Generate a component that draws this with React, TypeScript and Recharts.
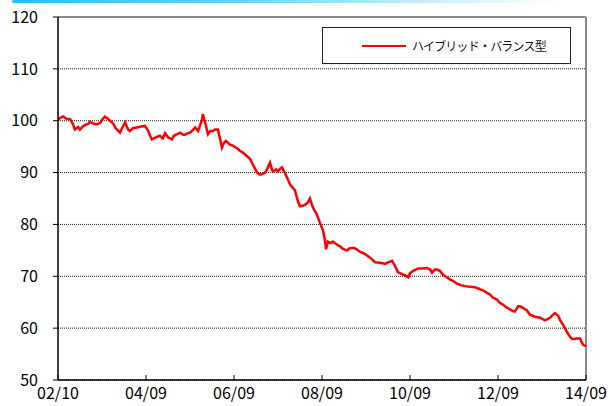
import React from "react";
import {
  LineChart,
  Line,
  XAxis,
  YAxis,
  CartesianGrid,
  ReferenceLine,
} from "recharts";

const SERIES_NAME = "ハイブリッド・バランス型";

// x tick labels (YY/MM), every 24 months
const xTickLabels = ["02/10", "04/09", "06/09", "08/09", "10/09", "12/09", "14/09"];
const xTickMonths = [0, 24, 48, 72, 96, 120, 144];
const yTicks = [50, 60, 70, 80, 90, 100, 110, 120];

// months elapsed since 2002/10
const months = [
  0, 0.5, 1.4, 2.2, 3.3, 4.1, 4.6, 5.5, 6.0, 6.8,
  7.4, 8.2, 8.7, 9.8, 10.6, 11.5, 12.3, 12.8, 13.6, 14.2,
  15.0, 15.8, 16.9, 17.5, 18.3, 19.1, 19.6, 20.5, 21.5, 22.6,
  23.7, 24.5, 25.1, 25.6, 26.7, 27.8, 28.6, 29.2, 30.0, 31.1,
  31.6, 32.5, 33.3, 34.1, 34.6, 35.5, 36.0, 36.8, 37.4, 38.2,
  38.7, 39.3, 39.5, 40.1, 40.9, 41.5, 42.3, 42.8, 43.6, 44.2,
  44.7, 45.3, 45.8, 46.9, 47.7, 48.8, 49.6, 50.5, 51.5, 52.4,
  52.9, 53.7, 54.3, 55.1, 55.6, 56.5, 57.0, 57.8, 58.4, 58.6,
  59.5, 60.0, 60.5, 61.1, 61.6, 62.5, 63.3, 64.1, 64.6, 65.5,
  66.0, 66.8, 67.4, 68.2, 68.7, 69.5, 70.1, 70.6, 71.5, 72.3,
  72.8, 73.1, 73.6, 74.2, 75.0, 76.1, 76.9, 77.7, 78.8, 79.6,
  80.5, 81.3, 82.4, 83.2, 84.3, 85.1, 86.5, 87.8, 89.2, 90.0,
  91.1, 91.9, 92.7, 93.8, 94.6, 95.5, 96.0, 96.8, 98.2, 99.3,
  100.6, 101.5, 102.0, 102.8, 103.4, 104.2, 105.0, 105.8, 106.9, 108.0,
  108.8, 109.9, 111.0, 112.4, 113.7, 115.1, 115.9, 117.0, 117.8, 118.6,
  119.7, 120.5, 121.4, 122.5, 123.3, 124.1, 124.6, 125.5, 126.0, 126.8,
  127.9, 128.7, 130.1, 131.5, 132.8, 133.6, 134.2, 135.0, 135.5, 136.4,
  136.9, 137.7, 138.3, 138.8, 139.6, 140.2, 141.0, 141.5, 142.4, 142.9,
  143.2, 143.7, 144.0,
];

const navValues = [
  100.1, 100.5, 100.8, 100.4, 100.3, 99.3, 98.3, 98.8, 98.3, 98.9,
  99.2, 99.4, 99.8, 99.4, 99.3, 99.6, 100.4, 100.8, 100.4, 100.0,
  99.5, 98.5, 97.7, 98.6, 99.7, 98.3, 98.0, 98.6, 98.7, 98.9,
  99.0, 98.2, 97.1, 96.4, 96.8, 97.1, 96.6, 97.6, 96.8, 96.4,
  97.1, 97.4, 97.7, 97.3, 97.3, 97.6, 97.7, 98.2, 98.7, 98.0,
  99.0, 100.2, 101.3, 99.7, 97.4, 98.0, 98.0, 98.3, 98.3, 96.5,
  94.8, 95.8, 96.1, 95.4, 95.2, 94.7, 94.2, 93.8, 93.2, 92.6,
  91.9, 90.8, 90.0, 89.6, 89.7, 90.0, 90.6, 91.9, 90.5, 90.2,
  90.6, 90.2, 90.7, 91.0, 90.3, 89.0, 87.7, 87.0, 86.6, 84.3,
  83.5, 83.6, 83.8, 84.3, 85.0, 83.3, 82.5, 81.9, 80.2, 78.8,
  76.9, 75.2, 76.7, 76.4, 76.7, 76.1, 75.8, 75.3, 75.0, 75.4,
  75.5, 75.3, 74.7, 74.5, 74.0, 73.6, 72.7, 72.6, 72.4, 72.7,
  73.0, 72.0, 70.8, 70.4, 70.2, 69.8, 70.6, 71.0, 71.5, 71.5,
  71.6, 71.3, 70.7, 71.3, 71.3, 71.0, 70.3, 69.9, 69.4, 69.0,
  68.6, 68.3, 68.1, 68.0, 67.9, 67.5, 67.3, 66.8, 66.5, 65.9,
  65.5, 64.9, 64.5, 63.9, 63.6, 63.3, 63.2, 64.2, 64.2, 63.9,
  63.4, 62.6, 62.2, 62.0, 61.5, 61.8, 62.0, 62.6, 62.9, 62.4,
  61.6, 60.7, 59.9, 59.3, 58.4, 57.9, 57.9, 58.0, 58.0, 57.2,
  56.8, 56.6, 56.6,
];

const data = months.map((m, i) => ({ m, v: navValues[i] }));

const FONT = '"Noto Sans CJK JP", "Noto Sans", sans-serif';

const XTick = (props: any) => {
  const { x, y, payload } = props;
  const idx = xTickMonths.indexOf(payload.value);
  return (
    <g>
      <line x1={x} x2={x} y1={y} y2={y - 5} stroke="#000" strokeWidth={1} />
      <text
        x={x}
        y={y + 19}
        textAnchor="middle"
        fontFamily={FONT}
        fontSize={16}
        fill="#000"
      >
        {idx >= 0 ? xTickLabels[idx] : ""}
      </text>
    </g>
  );
};

const LegendBox = () => (
  <div
    style={{
      position: "absolute",
      left: 322,
      top: 27,
      width: 249,
      height: 37,
      border: "1.5px solid #222",
      background: "#fff",
      boxSizing: "border-box",
    }}
  >
    <div
      style={{
        position: "absolute",
        left: 39,
        top: 17,
        width: 44,
        height: 2,
        background: "#ff0000",
      }}
    />
    <div
      style={{
        position: "absolute",
        left: 89,
        top: 9,
        fontFamily: FONT,
        fontSize: 12,
        lineHeight: "17px",
        letterSpacing: -0.8,
        color: "#111",
        whiteSpace: "nowrap",
      }}
    >
      {SERIES_NAME}
    </div>
  </div>
);

export default function App() {
  return (
    <div
      style={{
        position: "absolute",
        left: 0,
        top: 0,
        width: 608,
        height: 406,
        background: "#fff",
        overflow: "hidden",
      }}
    >
      <div
        style={{
          position: "absolute",
          left: 12,
          top: 0,
          width: 596,
          height: 3,
          borderRadius: 2,
          background:
            "linear-gradient(to right, #22c4f5 0%, #5ad4f8 35%, #c8eefc 70%, #ffffff 92%)",
        }}
      />
      <LineChart
        width={608}
        height={406}
        data={data}
        margin={{ top: 17, right: 22, bottom: 0, left: 0 }}
      >
        <CartesianGrid
          horizontal={true}
          vertical={false}
          stroke="#222"
          strokeDasharray="1 1"
        />
        <XAxis
          dataKey="m"
          type="number"
          domain={[0, 144]}
          ticks={xTickMonths}
          interval={0}
          height={26}
          tickSize={0}
          tickMargin={0}
          tickLine={false}
          axisLine={{ stroke: "#000", strokeWidth: 1.5 }}
          tick={<XTick />}
          allowDataOverflow
        />
        <YAxis
          type="number"
          domain={[50, 120]}
          ticks={yTicks}
          interval={0}
          width={58}
          tickSize={5}
          tickMargin={15}
          tickLine={{ stroke: "#000" }}
          axisLine={{ stroke: "#000", strokeWidth: 1.5 }}
          tick={{ fontFamily: FONT, fontSize: 16, fill: "#000" }}
          allowDataOverflow
        />
        <ReferenceLine y={120} stroke="#8a8a8a" strokeWidth={2} />
        <ReferenceLine x={144} stroke="#8a8a8a" strokeWidth={2} />
        <Line
          type="linear"
          dataKey="v"
          name={SERIES_NAME}
          stroke="#ff0000"
          strokeWidth={2.5}
          dot={false}
          isAnimationActive={false}
        />
      </LineChart>
      <LegendBox />
    </div>
  );
}
